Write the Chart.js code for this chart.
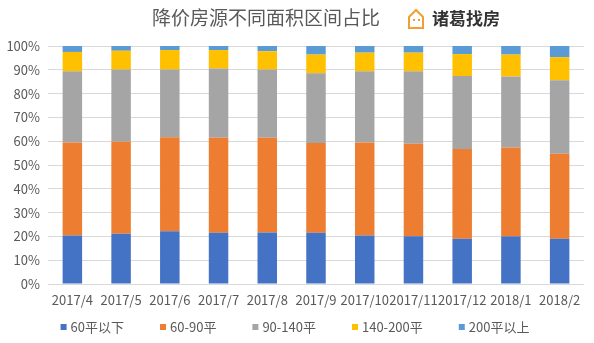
<!DOCTYPE html>
<html>
<head>
<meta charset="utf-8">
<script src="https://cdn.jsdelivr.net/npm/chart.js@4"></script>
<style>
  html, body { margin: 0; padding: 0; background: #fff; }
  #wrap { width: 594px; height: 343px; }
</style>
</head>
<body>
<div id="wrap"><canvas id="myChart"></canvas></div>
<script>
const months = ["2017/4", "2017/5", "2017/6", "2017/7", "2017/8", "2017/9", "2017/10", "2017/11", "2017/12", "2018/1", "2018/2"];
const under60 = [20.4, 21.1, 22.2, 21.5, 21.6, 21.5, 20.4, 20.1, 19.0, 20.0, 19.0];
const from60to90 = [39.1, 38.7, 39.5, 40.0, 39.9, 37.7, 39.1, 38.8, 37.7, 37.4, 35.7];
const from90to140 = [29.9, 30.3, 28.4, 29.0, 28.6, 29.3, 29.9, 30.5, 30.7, 29.8, 30.9];
const from140to200 = [8.1, 7.9, 8.2, 7.8, 7.7, 7.9, 7.8, 7.8, 9.2, 9.2, 9.7];
const over200 = [2.5, 2.0, 1.7, 1.7, 2.2, 3.6, 2.8, 2.8, 3.4, 3.6, 4.7];
const yTicks = [0, 10, 20, 30, 40, 50, 60, 70, 80, 90, 100];

const font = "'Noto Sans CJK SC', 'Noto Sans', sans-serif";

// title + logo drawn above the plot
const header = {
  id: "header",
  afterDraw(chart) {
    const c = chart.ctx;
    c.save();
    c.fillStyle = "#595959";
    c.font = "19px " + font;
    c.textAlign = "left";
    c.textBaseline = "middle";
    c.fillText("降价房源不同面积区间占比", 152, 18);

    // little house icon
    c.strokeStyle = "#F0A030";
    c.lineWidth = 2;
    c.beginPath();
    c.moveTo(409, 17);
    c.lineTo(416, 10);
    c.lineTo(423, 17);
    c.lineTo(423, 28);
    c.lineTo(409, 28);
    c.closePath();
    c.stroke();
    c.fillStyle = "#F0A030";
    c.fillRect(413, 19, 2, 2);
    c.fillRect(418, 19, 2, 2);

    c.fillStyle = "#333333";
    c.font = "bold 17px " + font;
    c.fillText("诸葛找房", 432, 19);
    c.restore();
  }
};

// legend like excel: small square, text, equal gap
const bottomLegend = {
  id: "bottomLegend",
  afterDraw(chart) {
    const c = chart.ctx;
    const sets = chart.data.datasets;
    c.save();
    c.font = "13px " + font;
    c.textBaseline = "middle";
    const box = 6, gapText = 4, gapItem = 36;
    let total = 0;
    sets.forEach((d, i) => {
      total += box + gapText + c.measureText(d.label).width;
      if (i < sets.length - 1) total += gapItem;
    });
    let x = 295 - total / 2;
    const y = 327;
    sets.forEach((d) => {
      c.fillStyle = d.backgroundColor;
      c.fillRect(x, y - box / 2, box, box);
      x += box + gapText;
      c.fillStyle = "#595959";
      c.fillText(d.label, x, y);
      x += c.measureText(d.label).width + gapItem;
    });
    c.restore();
  }
};

const ctx = document.getElementById("myChart");
new Chart(ctx, {
  type: "bar",
  data: {
    labels: months,
    datasets: [
      { label: "60平以下", data: under60, backgroundColor: "#4472C4" },
      { label: "60-90平", data: from60to90, backgroundColor: "#ED7D31" },
      { label: "90-140平", data: from90to140, backgroundColor: "#A5A5A5" },
      { label: "140-200平", data: from140to200, backgroundColor: "#FFC000" },
      { label: "200平以上", data: over200, backgroundColor: "#5B9BD5" },
    ],
  },
  options: {
    responsive: true,
    maintainAspectRatio: false,
    animation: false,
    barPercentage: 0.8,
    categoryPercentage: 0.5,
    layout: { padding: { top: 46, right: 10, left: 0, bottom: 29 } },
    plugins: {
      tooltip: { enabled: false },
      title: { display: false },
      legend: { display: false },
    },
    scales: {
      x: {
        stacked: true,
        grid: { display: false },
        border: { display: false },
        afterFit(axis) {
          axis.height = 30;
        },
        ticks: {
          color: "#595959",
          font: { family: font, size: 13 },
          autoSkip: false,
          maxRotation: 0,
          padding: 0,
        },
      },
      y: {
        stacked: true,
        min: 0,
        max: 100,
        afterBuildTicks(axis) {
          axis.ticks = yTicks.map((v) => ({ value: v }));
        },
        afterFit(axis) {
          axis.width = 48;
        },
        grid: { color: "#D9D9D9", drawTicks: false },
        border: { display: false },
        ticks: {
          color: "#595959",
          font: { family: font, size: 13 },
          padding: 8,
          callback: (v) => v + "%",
        },
      },
    },
  },
  plugins: [header, bottomLegend],
});
</script>
</body>
</html>
